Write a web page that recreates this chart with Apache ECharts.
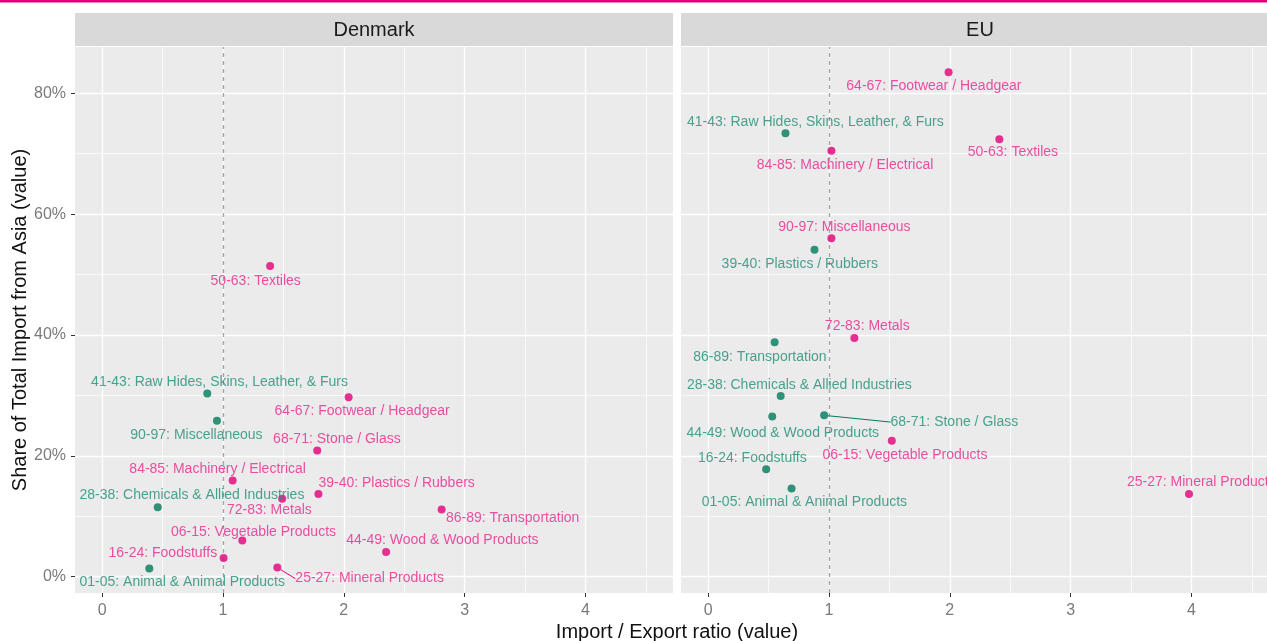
<!DOCTYPE html>
<html><head><meta charset="utf-8">
<script src="https://cdn.jsdelivr.net/npm/echarts@6/dist/echarts.min.js"></script>
<style>html,body{margin:0;padding:0;background:#fff}#c{width:1267px;height:641px}</style>
</head><body><div id="c"></div>
<script>
// ---------- data ----------
const categories = [
  '01-05: Animal & Animal Products',
  '06-15: Vegetable Products',
  '16-24: Foodstuffs',
  '25-27: Mineral Products',
  '28-38: Chemicals & Allied Industries',
  '39-40: Plastics / Rubbers',
  '41-43: Raw Hides, Skins, Leather, & Furs',
  '44-49: Wood & Wood Products',
  '50-63: Textiles',
  '64-67: Footwear / Headgear',
  '68-71: Stone / Glass',
  '72-83: Metals',
  '84-85: Machinery / Electrical',
  '86-89: Transportation',
  '90-97: Miscellaneous'
];
const panels = ['Denmark', 'EU'];
// Import / Export ratio
const dkRatio = [0.39, 1.16, 1.005, 1.45, 0.46, 1.79, 0.87, 2.35, 1.39, 2.04, 1.78, 1.49, 1.08, 2.81, 0.95];
const euRatio = [0.69, 1.52, 0.48, 3.98, 0.60, 0.88, 0.64, 0.53, 2.41, 1.99, 0.96, 1.21, 1.02, 0.55, 1.02];
// Share of total import from Asia
const dkShare = [0.0135, 0.060, 0.031, 0.015, 0.115, 0.137, 0.303, 0.041, 0.514, 0.297, 0.209, 0.129, 0.159, 0.111, 0.258];
const euShare = [0.146, 0.225, 0.178, 0.137, 0.299, 0.541, 0.734, 0.265, 0.724, 0.835, 0.267, 0.395, 0.705, 0.388, 0.560];
// ticks
const xTicks = [0, 1, 2, 3, 4];
const xMinor = [0.5, 1.5, 2.5, 3.5, 4.5];
const yTicks = [0, 0.2, 0.4, 0.6, 0.8];
const yMinor = [0.1, 0.3, 0.5, 0.7];
const refRatio = 1;

// ---------- label placement (pixel offsets from point, repel-style) ----------
const dkLabelOffset = [[32.9,14],[11.2,-8.4],[-60.8,-4.7],[92.3,11],[34.2,-12.3],[78.2,-10.4],[12.2,-11.4],[56.3,-11.7],[-14.4,14.7],[13.5,14],[19.7,-11.7],[-12.8,11.7],[-15,-11.4],[71,9],[-20.5,14.3]];
const euLabelOffset = [[12.8,14],[13.2,14],[-13.8,-10.7],[12.3,-11.3],[18.7,-11],[-14.7,14],[29.8,-10.7],[10.6,17],[13.6,13.4],[-14.7,14],[130.2,6.7],[12.9,-11.7],[13.6,14.3],[-14.7,15.4],[13,-11.3]];
const dkConnectors = ['25-27: Mineral Products'];
const euConnectors = ['68-71: Stone / Glass'];

// ---------- style ----------
const GREEN = '#007a5a', PINK = '#e2007a';
const GREEN_T = '#1f8d74', PINK_T = '#e8258c';
const FONT = '"Liberation Sans", Arial, sans-serif';
const GRID_W = 598, GRID_H = 546, TOP = 47;
const gridLefts = [75, 681];

function scatterSeries(idx, ratio, share, offsets, connectors) {
  return {
    type: 'scatter', xAxisIndex: idx, yAxisIndex: idx, z: 5,
    symbol: 'circle', symbolSize: 8, animation: false,
    emphasis: { disabled: true },
    data: categories.map((c, i) => {
      const low = ratio[i] < refRatio;
      const item = {
        name: c, value: [ratio[i], share[i]],
        itemStyle: { color: low ? GREEN : PINK },
        label: { color: low ? GREEN_T : PINK_T }
      };
      if (connectors.includes(c)) {
        item.labelLine = { show: true, length2: 0, smooth: false, lineStyle: { width: 1, color: low ? GREEN : PINK } };
      }
      return item;
    }),
    label: { show: true, position: 'inside', formatter: p => p.name, fontSize: 14, fontFamily: FONT },
    labelLine: { show: false },
    labelLayout: p => ({ dx: offsets[p.dataIndex][0], dy: offsets[p.dataIndex][1] })
  };
}

function gridLineSeries(idx) {
  const ml = [];
  const minorStyle = { color: '#ffffff', width: 0.7, type: 'solid' };
  const majorStyle = { color: '#ffffff', width: 1.3, type: 'solid' };
  xMinor.forEach(v => ml.push({ xAxis: v, lineStyle: minorStyle }));
  yMinor.forEach(v => ml.push({ yAxis: v, lineStyle: minorStyle }));
  xTicks.forEach(v => ml.push({ xAxis: v, lineStyle: majorStyle }));
  yTicks.forEach(v => ml.push({ yAxis: v, lineStyle: majorStyle }));
  ml.push({ xAxis: refRatio, lineStyle: { color: '#a3a3a3', width: 1.3, type: [4, 4] } });
  return {
    type: 'scatter', xAxisIndex: idx, yAxisIndex: idx, z: 1, silent: true, data: [],
    markLine: { silent: true, animation: false, symbol: ['none', 'none'], label: { show: false },
      emphasis: { disabled: true }, data: ml }
  };
}

const chart = echarts.init(document.getElementById('c'), null, { renderer: 'canvas' });
const option = {
  animation: false,
  backgroundColor: '#ffffff',
  grid: gridLefts.map(l => ({ left: l, top: TOP, width: GRID_W, height: GRID_H, show: true,
    backgroundColor: '#ebebeb', borderWidth: 0, containLabel: false, outerBoundsMode: 'none' })),
  xAxis: [0, 1].map(i => ({
    gridIndex: i, type: 'value', min: -0.225, max: 4.725,
    splitLine: { show: false }, minorSplitLine: { show: false },
    axisLine: { show: false, onZero: false },
    axisTick: { show: true, length: 4, lineStyle: { color: '#333333', width: 1 }, customValues: xTicks },
    axisLabel: { show: true, customValues: xTicks, fontSize: 16, color: '#7a7a7a', margin: 10, fontFamily: FONT }
  })),
  yAxis: [0, 1].map(i => ({
    gridIndex: i, type: 'value', min: -0.027, max: 0.8766,
    splitLine: { show: false }, minorSplitLine: { show: false },
    axisLine: { show: false, onZero: false },
    axisTick: { show: i === 0, length: 4, lineStyle: { color: '#333333', width: 1 }, customValues: yTicks },
    axisLabel: { show: i === 0, customValues: yTicks, fontSize: 16, color: '#7a7a7a', margin: 9, fontFamily: FONT,
      formatter: v => Math.round(v * 100) + '%' }
  })),
  series: [
    gridLineSeries(0), gridLineSeries(1),
    scatterSeries(0, dkRatio, dkShare, dkLabelOffset, dkConnectors),
    scatterSeries(1, euRatio, euShare, euLabelOffset, euConnectors)
  ],
  graphic: [
    { type: 'rect', shape: { x: 0, y: 0, width: 1267, height: 2.5 }, style: { fill: PINK }, silent: true },
    ...panels.flatMap((p, i) => [
      { type: 'rect', shape: { x: gridLefts[i], y: 13, width: GRID_W, height: 33 }, style: { fill: '#d9d9d9' }, silent: true },
      { type: 'text', x: gridLefts[i] + GRID_W / 2, y: 30, silent: true,
        style: { text: p, fontSize: 20, fontFamily: FONT, fill: '#1a1a1a', align: 'center', verticalAlign: 'middle' } }
    ]),
    { type: 'text', x: 677, y: 632, silent: true,
      style: { text: 'Import / Export ratio (value)', fontSize: 20, fontFamily: FONT, fill: '#111111', align: 'center', verticalAlign: 'middle' } },
    { type: 'text', x: 20, y: 320, rotation: Math.PI / 2, silent: true,
      style: { text: 'Share of Total Import from Asia (value)', fontSize: 20, fontFamily: FONT, fill: '#111111', align: 'center', verticalAlign: 'middle' } }
  ]
};
chart.setOption(option);
</script>
</body></html>
